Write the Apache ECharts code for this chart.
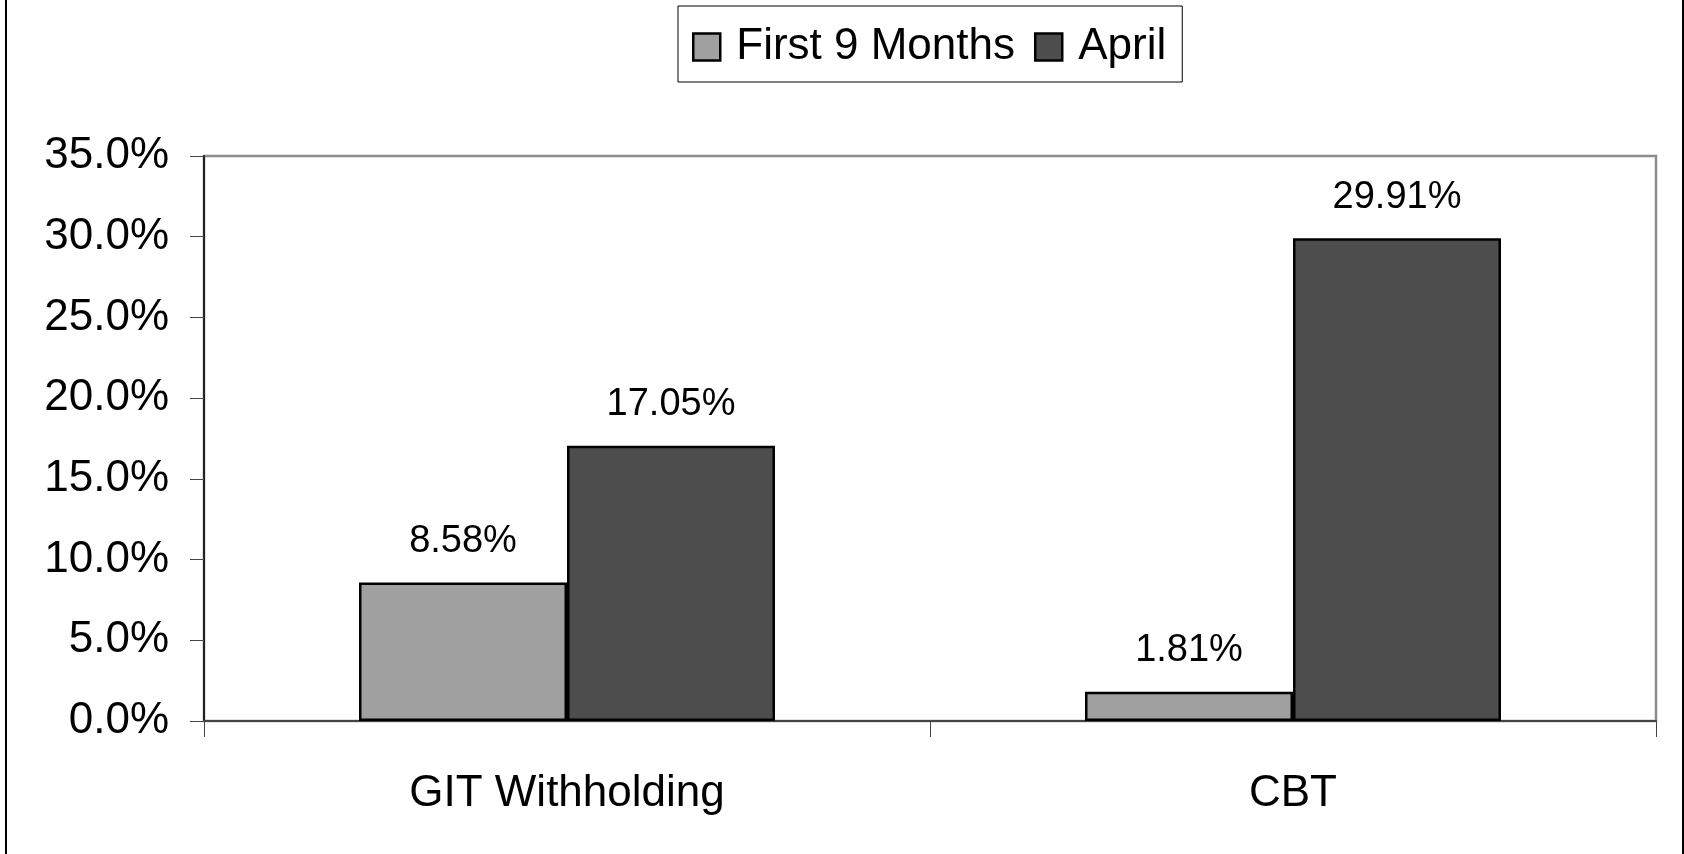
<!DOCTYPE html>
<html>
<head>
<meta charset="utf-8">
<script src="https://cdn.jsdelivr.net/npm/echarts@6/dist/echarts.min.js"></script>
<style>
  html, body { margin: 0; padding: 0; background: #fff; }
  #chart { width: 1684px; height: 854px; }
</style>
</head>
<body>
<div id="chart"></div>
<script>
// 数据
const categories = ['GIT Withholding', 'CBT']
const seriesNames = ['First 9 Months', 'April']
const first9Months = [8.58, 1.81]
const april = [17.05, 29.91]

const FONT = 'Liberation Sans, Arial, sans-serif'

const chart = echarts.init(document.getElementById('chart'))

// 柱子公共样式
const barSeries = (name, data, color) => ({
  name: name,
  type: 'bar',
  data: data,
  barWidth: 208,
  barGap: '0%',
  itemStyle: {
    color: color,
    borderColor: '#000',
    borderWidth: 2.5
  },
  label: {
    show: true,
    position: 'top',
    distance: 22,
    color: '#000',
    fontFamily: FONT,
    fontSize: 38,
    formatter: p => p.value.toFixed(2) + '%'
  }
})

const option = {
  backgroundColor: '#fff',
  animation: false,
  graphic: [{
    type: 'rect',
    shape: { x: 6, y: -10, width: 1677, height: 880 },
    style: { fill: 'none', stroke: '#000', lineWidth: 2 },
    silent: true
  }],
  legend: {
    left: 678,
    top: 6,
    padding: [18, 16, 12, 14],
    itemGap: 19,
    itemWidth: 27,
    itemHeight: 27,
    borderColor: '#000',
    borderWidth: 1,
    icon: 'rect',
    itemStyle: { borderColor: '#000', borderWidth: 2.5 },
    textStyle: {
      fontFamily: FONT,
      fontSize: 44,
      lineHeight: 46,
      color: '#000',
      padding: [0, 0, 0, 11]
    },
    data: seriesNames
  },
  grid: {
    left: 204,
    right: 28,
    top: 156,
    bottom: 133,
    show: true,
    borderColor: '#8c8c8c',
    borderWidth: 2.5,
    containLabel: false
  },
  xAxis: {
    type: 'category',
    data: categories,
    axisLine: { lineStyle: { color: '#444', width: 2 } },
    axisTick: { show: true, length: 16, lineStyle: { color: '#444', width: 1 } },
    axisLabel: {
      margin: 51,
      color: '#000',
      fontFamily: FONT,
      fontSize: 44
    }
  },
  yAxis: {
    type: 'value',
    min: 0,
    max: 35,
    interval: 5,
    splitLine: { show: false },
    axisLine: { show: true, lineStyle: { color: '#222', width: 2 } },
    axisTick: { show: true, length: 14, lineStyle: { color: '#444', width: 1 } },
    axisLabel: {
      margin: 35,
      color: '#000',
      fontFamily: FONT,
      fontSize: 44,
      formatter: v => v.toFixed(1) + '%'
    }
  },
  series: [
    barSeries(seriesNames[0], first9Months, '#a0a0a0'),
    barSeries(seriesNames[1], april, '#4d4d4d')
  ]
}

chart.setOption(option)
</script>
</body>
</html>
